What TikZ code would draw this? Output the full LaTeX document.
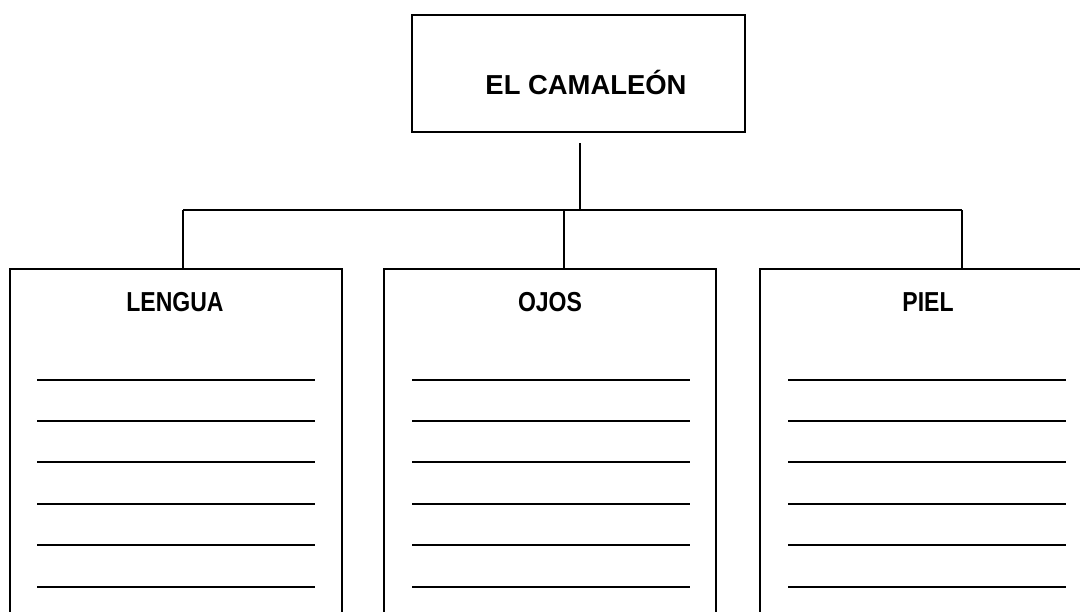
\documentclass[tikz,border=0pt]{standalone}
\usepackage{fontspec}
\setmainfont{Liberation Sans}
\newfontfamily\estrecha[FakeStretch=0.84]{Liberation Sans}
\usetikzlibrary{positioning}

\tikzset{
  cajatitulo/.style={draw, line width=1.4pt, minimum width=8.325cm, minimum height=2.925cm},
  titulo/.style={font=\fontsize{19.5}{22}\selectfont\bfseries},
  caja/.style={draw, line width=1.4pt, anchor=north, minimum width=8.3cm, minimum height=10cm},
  etiqueta/.style={font=\estrecha\fontsize{19.5}{22}\selectfont\bfseries},
  renglon/.style={line width=1.5pt},
  rama/.style={line width=1.2pt}
}

\begin{document}
\begin{tikzpicture}[x=0.025cm, y=-0.025cm]
\useasboundingbox (0,0) rectangle (1080,612);
\clip (0,0) rectangle (1080,612);

% Title box
\node[cajatitulo] (camaleon) at (578.5,73.5) {};
\node[titulo] (camaleonT) at (586,82) {EL CAMALEÓN};

% Three boxes (they run past the bottom of the page)
\node[caja] (lengua) at (176,268) {};
\node[etiqueta] (lenguaT) at (175,302) {LENGUA};
\node[caja] (ojos) at (550,268) {};
\node[etiqueta] (ojosT) at (550,302) {OJOS};
\node[caja] (piel) at (926,268) {};
\node[etiqueta] (pielT) at (928,302) {PIEL};

% Connectors
\coordinate (tronco) at (580,143);
\coordinate (cruce) at (580,210);
\coordinate (ramaL) at (183,210);
\coordinate (ramaM) at (564,210);
\coordinate (ramaR) at (962,210);
\draw[rama] (tronco) -- (cruce);
\draw[rama] (ramaL) -- (ramaR);
\draw[rama] (ramaL) -- (ramaL |- lengua.north);
\draw[rama] (ramaM) -- (ramaM |- ojos.north);
\draw[rama] (ramaR) -- (ramaR |- piel.north);

% Writing lines, LENGUA
\draw[renglon] (37,380) -- (315,380);
\draw[renglon] (37,421) -- (315,421);
\draw[renglon] (37,462) -- (315,462);
\draw[renglon] (37,504) -- (315,504);
\draw[renglon] (37,545) -- (315,545);
\draw[renglon] (37,587) -- (315,587);

% Writing lines, OJOS
\draw[renglon] (412,380) -- (690,380);
\draw[renglon] (412,421) -- (690,421);
\draw[renglon] (412,462) -- (690,462);
\draw[renglon] (412,504) -- (690,504);
\draw[renglon] (412,545) -- (690,545);
\draw[renglon] (412,587) -- (690,587);

% Writing lines, PIEL
\draw[renglon] (788,380) -- (1066,380);
\draw[renglon] (788,421) -- (1066,421);
\draw[renglon] (788,462) -- (1066,462);
\draw[renglon] (788,504) -- (1066,504);
\draw[renglon] (788,545) -- (1066,545);
\draw[renglon] (788,587) -- (1066,587);
\end{tikzpicture}
\end{document}
